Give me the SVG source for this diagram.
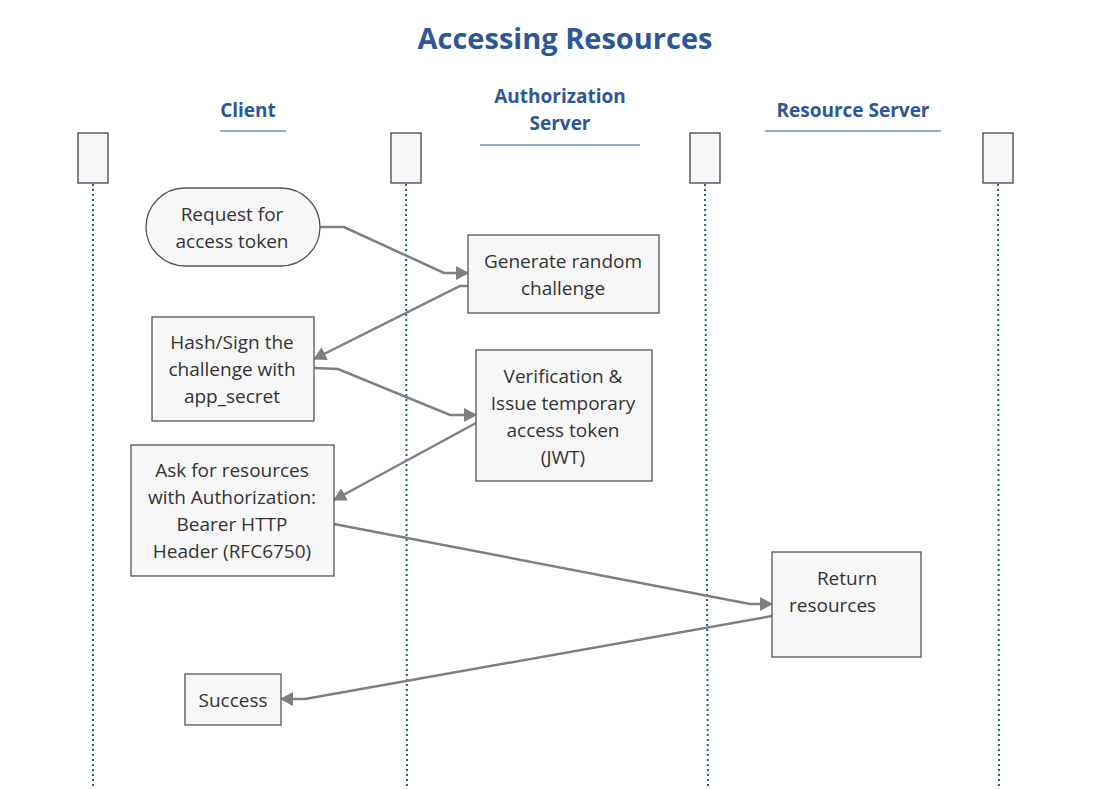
<svg xmlns="http://www.w3.org/2000/svg" width="1105" height="789" viewBox="0 0 1105 789">
<defs>
<style>
.t{font-family:"Open Sans","Noto Sans",sans-serif;font-size:19px;fill:#333;text-anchor:middle}
.h{font-family:"Open Sans","Noto Sans",sans-serif;font-size:19px;font-weight:bold;fill:#2B579A;text-anchor:middle}
.box{fill:#F7F7F7;stroke:#555;stroke-width:1.3}
.life{fill:#F7F7F7;stroke:#444;stroke-width:1.3}
.dot{stroke:#2B579A;stroke-width:2;stroke-dasharray:2 3}
.ul{stroke:#2B579A;stroke-width:1.2}
.c{fill:none;stroke:#7F7F7F;stroke-width:2.5;marker-end:url(#ah)}
</style>
<marker id="ah" viewBox="0 0 13 14" refX="12" refY="7" markerWidth="13" markerHeight="14" markerUnits="userSpaceOnUse" orient="auto">
<path d="M0,0 L13,7 L0,14 z" fill="#7F7F7F"/>
</marker>
</defs>
<rect width="1105" height="789" fill="#fff"/>
<text x="565" y="49" class="h" style="font-size:29px">Accessing Resources</text>

<g id="lane-client">
<text x="248" y="117" class="h">Client</text>
<line x1="220" y1="131" x2="286" y2="131" class="ul"/>
</g>
<g id="lane-auth">
<text x="560" y="103" class="h">Authorization</text>
<text x="560" y="130" class="h">Server</text>
<line x1="480" y1="145" x2="640" y2="145" class="ul"/>
</g>
<g id="lane-resource">
<text x="853" y="117" class="h">Resource Server</text>
<line x1="765" y1="131" x2="941" y2="131" class="ul"/>
</g>

<g id="lifelines">
<rect x="78" y="133" width="30" height="50" class="life"/>
<rect x="391" y="133" width="30" height="50" class="life"/>
<rect x="690" y="133" width="30" height="50" class="life"/>
<rect x="983" y="133" width="30" height="50" class="life"/>
<line x1="93" y1="184" x2="93" y2="789" class="dot"/>
<line x1="406" y1="184" x2="407" y2="789" class="dot"/>
<line x1="705" y1="184" x2="708" y2="789" class="dot"/>
<line x1="998" y1="184" x2="999" y2="789" class="dot"/>
</g>

<g id="connectors">
<path d="M320,227 L344,227 L444,273 L468,273" class="c"/>
<path d="M468,286 L460,286 L314,359" class="c"/>
<path d="M314,368 L338,369 L450,415 L476,415" class="c"/>
<path d="M476,423 L334,500" class="c"/>
<path d="M334,524 L750,604 L772,604" class="c"/>
<path d="M772,616 L305,699 L281,699" class="c"/>
</g>

<g id="n-request">
<rect x="146" y="188" width="174" height="78" rx="39" class="box"/>
<text x="232" y="221" class="t">Request for</text>
<text x="232" y="248" class="t">access token</text>
</g>
<g id="n-generate">
<rect x="468" y="235" width="191" height="78" class="box"/>
<text x="563" y="268" class="t">Generate random</text>
<text x="563" y="295" class="t">challenge</text>
</g>
<g id="n-hash">
<rect x="152" y="317" width="162" height="104" class="box"/>
<text x="232" y="349" class="t">Hash/Sign the</text>
<text x="232" y="376" class="t">challenge with</text>
<text x="232" y="403" class="t">app_secret</text>
</g>
<g id="n-verify">
<rect x="476" y="350" width="176" height="131" class="box"/>
<text x="563" y="383" class="t">Verification &amp;</text>
<text x="563" y="410" class="t">Issue temporary</text>
<text x="563" y="437" class="t">access token</text>
<text x="563" y="464" class="t">(JWT)</text>
</g>
<g id="n-ask">
<rect x="131" y="445" width="203" height="131" class="box"/>
<text x="232" y="477" class="t">Ask for resources</text>
<text x="232" y="504" class="t">with Authorization:</text>
<text x="232" y="531" class="t">Bearer HTTP</text>
<text x="232" y="558" class="t">Header (RFC6750)</text>
</g>
<g id="n-return">
<rect x="772" y="552" width="149" height="105" class="box"/>
<text x="847" y="585" class="t">Return</text>
<text x="789" y="612" class="t" style="text-anchor:start">resources</text>
</g>
<g id="n-success">
<rect x="185" y="674" width="96" height="51" class="box"/>
<text x="233" y="707" class="t">Success</text>
</g>
</svg>
